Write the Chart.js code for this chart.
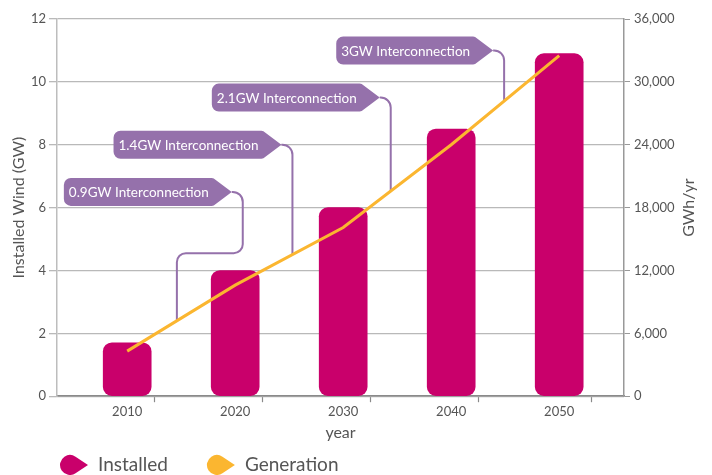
<!DOCTYPE html>
<html>
<head>
  <title>Installed Wind and Generation</title>
  <script src="https://cdn.jsdelivr.net/npm/chart.js"></script>
  <style>
    html, body { margin: 0; padding: 0; background: #fff; }
    #wrap { width: 712px; height: 475px; }
  </style>
</head>
<body>
  <div id="wrap"><canvas id="windChart" width="712" height="475"></canvas></div>
  <script>
    const years = [2010, 2020, 2030, 2040, 2050];
    const installedGW = [1.7, 4, 6, 8.5, 10.9];
    const generationGWh = [4300, 10600, 16100, 24000, 32500];
    const gwTicks = [0, 2, 4, 6, 8, 10, 12];
    const gwhTicks = [0, 6000, 12000, 18000, 24000, 30000, 36000];
    // x axis ends and the tick marks that sit between decades
    const yearBounds = [2003.5, 2056];
    const yearDividers = [2015, 2025, 2035, 2045];

    // interconnection tags: level of the tag (GW axis), year where its leader drops
    const calloutLabels = ['0.9GW Interconnection', '1.4GW Interconnection', '2.1GW Interconnection', '3GW Interconnection'];
    const calloutLevel = [6.5, 8, 9.5, 11];
    const calloutDrop = [2020.7, 2025.3, 2034.4, 2044.9];
    const calloutJogLevel = [4.55, null, null, null];
    const calloutJogYear = [2014.6, null, null, null];

    const FONT = 'Lato, "Open Sans", sans-serif';
    const TEXT = '#555';
    const MAGENTA = '#c9006b';
    const AMBER = '#fbb630';
    const PURPLE = '#9571ab';

    Chart.defaults.font.family = FONT;
    Chart.defaults.color = TEXT;

    function generationAt(year) {
      for (let i = 0; i < years.length - 1; i++) {
        if (year <= years[i + 1]) {
          const t = (year - years[i]) / (years[i + 1] - years[i]);
          return generationGWh[i] + t * (generationGWh[i + 1] - generationGWh[i]);
        }
      }
      return generationGWh[generationGWh.length - 1];
    }

    const calloutPlugin = {
      id: 'callouts',
      beforeDatasetsDraw(chart) {
        const { ctx, scales: { x, y, y1 } } = chart;
        ctx.save();
        ctx.font = '13.5px ' + FONT;
        ctx.lineWidth = 2;
        ctx.lineJoin = 'round';
        ctx.strokeStyle = PURPLE;
        calloutLabels.forEach((text, i) => {
          const dropX = x.getPixelForValue(calloutDrop[i]);
          const midY = y.getPixelForValue(calloutLevel[i]);
          const tipX = dropX - 11;
          const boxR = tipX - 18;
          const boxL = boxR - ctx.measureText(text).width - 10;
          const top = midY - 14, bottom = midY + 14, r = 7;

          // tag body with its pointer
          ctx.fillStyle = PURPLE;
          ctx.beginPath();
          ctx.moveTo(boxL + r, top);
          ctx.lineTo(boxR - 2, top);
          ctx.quadraticCurveTo(boxR, top, boxR + 2, top + 2);
          ctx.lineTo(tipX, midY);
          ctx.lineTo(boxR + 2, bottom - 2);
          ctx.quadraticCurveTo(boxR, bottom, boxR - 2, bottom);
          ctx.lineTo(boxL + r, bottom);
          ctx.arcTo(boxL, bottom, boxL, bottom - r, r);
          ctx.lineTo(boxL, top + r);
          ctx.arcTo(boxL, top, boxL + r, top, r);
          ctx.closePath();
          ctx.fill();

          // leader down to the generation line
          ctx.beginPath();
          ctx.moveTo(tipX, midY);
          if (calloutJogLevel[i] !== null) {
            const jogY = y.getPixelForValue(calloutJogLevel[i]);
            const endX = x.getPixelForValue(calloutJogYear[i]);
            const endY = y1.getPixelForValue(generationAt(calloutJogYear[i]));
            ctx.arcTo(dropX, midY, dropX, jogY, 10);
            ctx.arcTo(dropX, jogY, endX, jogY, 9);
            ctx.arcTo(endX, jogY, endX, endY, 9);
            ctx.lineTo(endX, endY);
          } else {
            const endY = y1.getPixelForValue(generationAt(calloutDrop[i]));
            ctx.arcTo(dropX, midY, dropX, endY, 10);
            ctx.lineTo(dropX, endY);
          }
          ctx.stroke();

          ctx.fillStyle = '#fff';
          ctx.textBaseline = 'middle';
          ctx.textAlign = 'left';
          ctx.fillText(text, boxL + 5, midY + 1);
        });
        ctx.restore();
      }
    };

    function drawDrop(ctx, left, cy, color) {
      const r = 10, cx = left + r, tip = left + 28;
      const a = Math.acos(r / (tip - cx));
      ctx.fillStyle = color;
      ctx.beginPath();
      ctx.moveTo(tip, cy);
      ctx.lineTo(cx + r * Math.cos(a), cy + r * Math.sin(a));
      ctx.arc(cx, cy, r, a, 2 * Math.PI - a);
      ctx.closePath();
      ctx.fill();
    }

    const legendPlugin = {
      id: 'dropLegend',
      afterDraw(chart) {
        const { ctx, scales: { y1 } } = chart;
        ctx.save();

        // right axis title reads bottom to top like the left one
        ctx.font = '16px ' + FONT;
        ctx.fillStyle = TEXT;
        ctx.textAlign = 'center';
        ctx.textBaseline = 'middle';
        ctx.translate(689, (y1.top + y1.bottom) / 2);
        ctx.rotate(-Math.PI / 2);
        ctx.fillText('GWh/yr', 0, 0);
        ctx.setTransform(1, 0, 0, 1, 0, 0);

        let left = 60;
        const cy = 465;
        ctx.font = '19px ' + FONT;
        ctx.textAlign = 'left';
        chart.data.datasets.forEach(ds => {
          drawDrop(ctx, left, cy, ds.legendColor);
          ctx.fillStyle = TEXT;
          ctx.fillText(ds.label, left + 38, cy);
          left += 38 + ctx.measureText(ds.label).width + 39;
        });
        ctx.restore();
      }
    };

    const isDecade = c => !!(c.tick && years.includes(c.tick.value));

    new Chart(document.getElementById('windChart'), {
      data: {
        datasets: [
          {
            type: 'bar',
            label: 'Installed',
            data: years.map((yr, i) => ({ x: yr, y: installedGW[i] })),
            yAxisID: 'y',
            backgroundColor: MAGENTA,
            legendColor: MAGENTA,
            borderRadius: 9,
            borderSkipped: false,
            barThickness: 48,
            order: 2
          },
          {
            type: 'line',
            label: 'Generation',
            data: years.map((yr, i) => ({ x: yr, y: generationGWh[i] })),
            yAxisID: 'y1',
            borderColor: AMBER,
            legendColor: AMBER,
            borderWidth: 3,
            pointRadius: 0,
            tension: 0,
            order: 1
          }
        ]
      },
      options: {
        responsive: false,
        animation: false,
        layout: { padding: { top: 19, right: 0, bottom: 30, left: 0 } },
        plugins: {
          legend: { display: false },
          tooltip: { enabled: false }
        },
        scales: {
          x: {
            type: 'linear',
            offset: false,
            min: yearBounds[0],
            max: yearBounds[1],
            afterBuildTicks: scale => {
              scale.ticks = [yearBounds[0], ...years, ...yearDividers, yearBounds[1]]
                .sort((a, b) => a - b)
                .map(v => ({ value: v }));
            },
            ticks: {
              autoSkip: false,
              maxRotation: 0,
              padding: 2,
              font: { size: 13 },
              color: TEXT,
              callback: v => years.includes(v) ? String(v) : ''
            },
            grid: {
              drawOnChartArea: false,
              tickLength: 6,
              tickWidth: 1.2,
              tickColor: c => isDecade(c) ? 'rgba(0,0,0,0)' : '#8a8a8a'
            },
            border: { color: '#8a8a8a', width: 1.5 },
            title: { display: true, text: 'year', font: { size: 16 }, color: TEXT, padding: { top: 1, bottom: 3 } }
          },
          y: {
            position: 'left',
            min: 0,
            max: 12,
            afterBuildTicks: scale => { scale.ticks = gwTicks.map(v => ({ value: v })); },
            afterFit: scale => { scale.width = 57; },
            ticks: { padding: 3, font: { size: 13 }, color: TEXT },
            grid: { color: '#b9b9b9', lineWidth: 1.3, tickLength: 8 },
            border: { color: '#bdbdbd', width: 1.5 },
            title: { display: true, text: 'Installed Wind (GW)', font: { size: 16 }, color: TEXT, padding: { top: 9, bottom: 0 } }
          },
          y1: {
            position: 'right',
            min: 0,
            max: 36000,
            afterBuildTicks: scale => { scale.ticks = gwhTicks.map(v => ({ value: v })); },
            afterFit: scale => { scale.width = 88; },
            ticks: { padding: 4, font: { size: 13 }, color: TEXT, callback: v => v.toLocaleString('en-US') },
            grid: { drawOnChartArea: false, tickLength: 6, color: '#999' },
            border: { color: '#999', width: 1.5 }
          }
        }
      },
      plugins: [calloutPlugin, legendPlugin]
    });
  </script>
</body>
</html>
